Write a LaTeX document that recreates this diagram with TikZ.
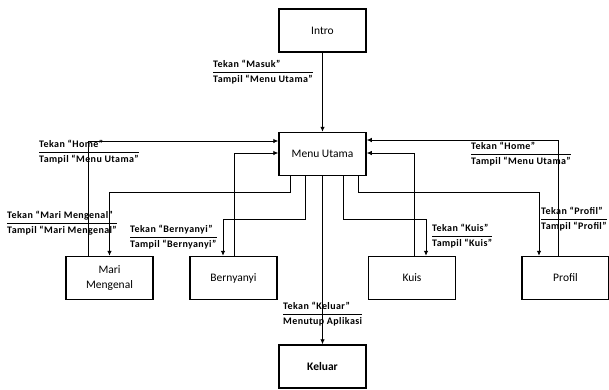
\documentclass[tikz,border=0pt]{standalone}
\usepackage{fontspec}
\setmainfont{Carlito}
\newfontfamily\lblfont[LetterSpace=4]{Carlito}
\usetikzlibrary{arrows.meta,calc}
\newcommand{\twolab}[2]{\renewcommand{\arraystretch}{1.3}\setlength{\arrayrulewidth}{0.6pt}\begin{tabular}{@{}l@{}}#1\\\hline #2\end{tabular}}
\begin{document}
\begin{tikzpicture}[x=1pt,y=-1pt,
  box/.style={draw,line width=1.5pt,minimum width=87pt,minimum height=43pt,inner sep=1pt,align=center,font=\fontsize{11.5}{15}\selectfont},
  arr/.style={line width=0.8pt,-{Latex[length=5pt,width=4.5pt]}},
  lbl/.style={anchor=west,inner sep=0pt,font=\lblfont\fontsize{10}{11}\selectfont\bfseries}]
\useasboundingbox (0,0) rectangle (609,389);
% boxes
\node[box] (intro) at (322.5,30.5) {Intro};
\node[box] (menu) at (322.5,154) {Menu Utama};
\node[box] (mari) at (109.5,278) {Mari\\Mengenal};
\node[box] (bern) at (233.5,278) {Bernyanyi};
\node[box] (kuis) at (412,278) {Kuis};
\node[box] (profil) at (565.5,278) {Profil};
\node[box,font=\fontsize{11.5}{15}\selectfont\bfseries] (keluar) at (322.5,366.5) {Keluar};
% connectors
\draw[arr] (intro.south) -- (menu.north);
\draw[arr] (menu.south) -- (keluar.north);
\draw[arr] ([xshift=12]menu.south west) -- ++(0,16) -| (mari.north);
\draw[arr] ([xshift=27]menu.south west) -- ++(0,43) -| ([xshift=-10.5]bern.north);
\draw[arr] ([xshift=-23]menu.south east) -- ++(0,43) -| ([xshift=14]kuis.north);
\draw[arr] ([xshift=-8]menu.south east) -- ++(0,16) -| ([xshift=-26.5]profil.north);
\draw[arr] ([xshift=0.5]bern.north) |- ([yshift=1]menu.west);
\draw[arr] ([xshift=-21.5]mari.north) |- ([yshift=13]menu.west);
\draw[arr] ([xshift=2]kuis.north) |- ([yshift=1]menu.east);
\draw[arr] ([xshift=-7.5]profil.north) |- ([yshift=14]menu.east);
% labels
\node[lbl] (lmasuk) at (213,72) {\twolab{Tekan “Masuk”}{Tampil “Menu Utama”}};
\node[lbl] (lhomel) at (39,152) {\twolab{Tekan “Home”}{Tampil “Menu Utama”}};
\node[lbl] (lmari) at (7,223) {\twolab{Tekan “Mari Mengenal”}{Tampil “Mari Mengenal”}};
\node[lbl] (lbern) at (130,237) {\twolab{Tekan “Bernyanyi”}{Tampil “Bernyanyi”}};
\node[lbl] (lhomer) at (471,154) {\twolab{Tekan “Home”}{Tampil “Menu Utama”}};
\node[lbl] (lprofil) at (541,219) {\twolab{Tekan “Profil”}{Tampil “Profil”}};
\node[lbl] (lkuis) at (432,236) {\twolab{Tekan “Kuis”}{Tampil “Kuis”}};
\node[lbl] (lkeluar) at (283,314) {\twolab{Tekan “Keluar”}{Menutup Aplikasi}};
\end{tikzpicture}
\end{document}
